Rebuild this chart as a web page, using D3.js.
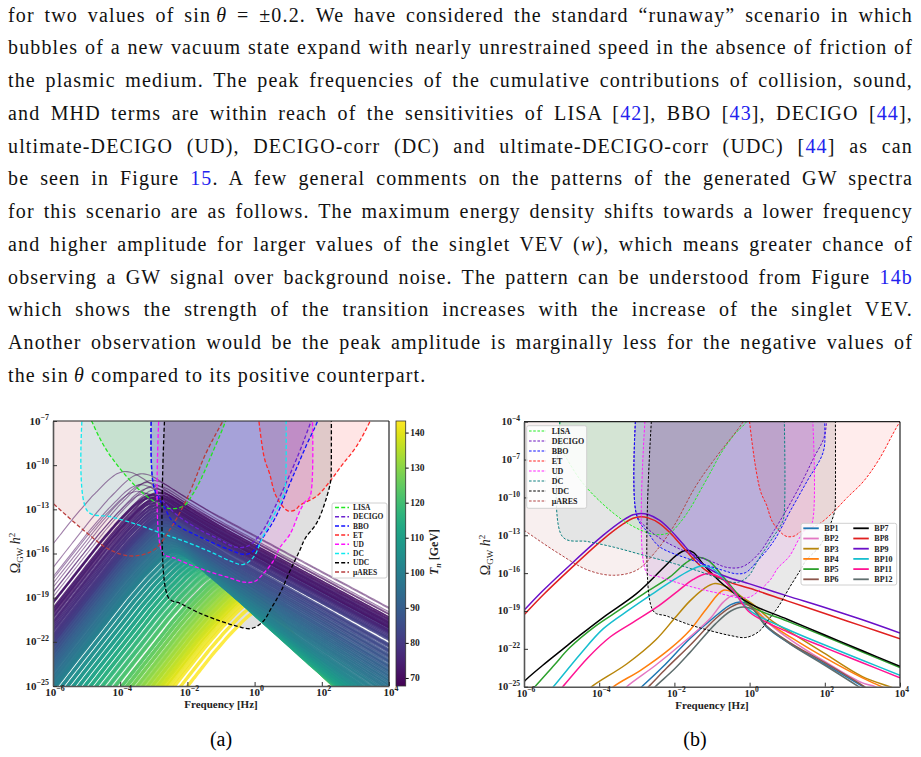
<!DOCTYPE html>
<html>
<head>
<meta charset="utf-8">
<script src="https://cdnjs.cloudflare.com/ajax/libs/d3/7.8.5/d3.min.js"></script>
<style>
  body { margin: 0; background: #fff; }
  svg { display: block; }
  text { font-family: "Liberation Serif", "Times New Roman", serif; }
</style>
</head>
<body>
<svg id="page" width="921" height="757"></svg>
<script>
// ---------------- paragraph text ----------------
// each line: list of [text, kind]  (n = normal, i = italic, b = blue reference)
const paragraphLines = [
  [["for two values of sin\u2009", "n"], ["θ", "i"], [" = ±0.2. We have considered the standard “runaway” scenario in which", "n"]],
  [["bubbles of a new vacuum state expand with nearly unrestrained speed in the absence of friction of", "n"]],
  [["the plasmic medium. The peak frequencies of the cumulative contributions of collision, sound,", "n"]],
  [["and MHD terms are within reach of the sensitivities of LISA [", "n"], ["42", "b"], ["], BBO [", "n"], ["43", "b"], ["], DECIGO [", "n"], ["44", "b"], ["],", "n"]],
  [["ultimate-DECIGO (UD), DECIGO-corr (DC) and ultimate-DECIGO-corr (UDC) [", "n"], ["44", "b"], ["] as can", "n"]],
  [["be seen in Figure ", "n"], ["15", "b"], [". A few general comments on the patterns of the generated GW spectra", "n"]],
  [["for this scenario are as follows. The maximum energy density shifts towards a lower frequency", "n"]],
  [["and higher amplitude for larger values of the singlet VEV (", "n"], ["w", "i"], ["), which means greater chance of", "n"]],
  [["observing a GW signal over background noise. The pattern can be understood from Figure ", "n"], ["14b", "b"]],
  [["which shows the strength of the transition increases with the increase of the singlet VEV.", "n"]],
  [["Another observation would be the peak amplitude is marginally less for the negative values of", "n"]],
  [["the sin\u2009", "n"], ["θ", "i"], [" compared to its positive counterpart.", "n"]]
];

// ---------------- shared axis data (log10 exponents) ----------------
const freqTicks = [-6, -4, -2, 0, 2, 4];
const omegaTicksA = [-7, -10, -13, -16, -19, -22, -25];
const omegaTicksB = [-4, -7, -10, -13, -16, -19, -22, -25];
const tnTicks = [70, 80, 90, 100, 110, 120, 130, 140];

// ---------------- detector sensitivity curves [log10 f, log10 Omega h^2] ----------------
const lisaPts = [[-5.05,-2],[-5.0,-6.1],[-4.85,-7],[-4.4,-9.0],[-3.6,-11.3],[-3.0,-12.45],[-2.5,-12.95],[-2.1,-12.75],[-1.85,-12.0],[-1.585,-10.9],[-1.3,-9.4],[-1.0,-7.8],[-0.79,-6.64],[-0.4,-5.0],[-0.08,-4],[0.3,-2]];
const decigoPts = [[-3.0,-2],[-3.0,-11.4],[-2.7,-12.5],[-2.3,-13.4],[-1.7,-14.3],[-1.0,-15.1],[-0.6,-15.55],[-0.2,-15.5],[0.2,-14.6],[0.63,-12.73],[1.3,-9.3],[1.7,-6.9],[2.0,-5.06],[2.05,-2]];
const bboPts = [[-3.0,-2],[-3.0,-11.5],[-2.7,-12.8],[-2.4,-13.9],[-1.6,-14.9],[-0.73,-15.76],[-0.35,-16.05],[-0.1,-15.95],[0.19,-15.1],[0.63,-13.52],[1.07,-11.14],[1.52,-8.76],[1.96,-6.38],[2.0,-4],[2.0,-2]];
const etPts = [[-0.05,-2],[0.0,-4],[0.18,-7.97],[0.3,-9.6],[0.45,-10.6],[0.6,-11.9],[0.81,-12.73],[0.99,-13.1],[1.2,-13.05],[1.35,-12.73],[1.85,-12.1],[2.23,-11.14],[2.6,-10.0],[3.02,-8.76],[3.43,-7.05],[4.0,-4],[4.5,-2]];
const udPts = [[-2.74,-2],[-2.74,-15.96],[-2.4,-16.3],[-2.02,-16.67],[-1.4,-17.2],[-0.73,-17.66],[-0.3,-17.95],[0.0,-17.9],[0.25,-17.4],[0.56,-16.5],[0.75,-15.6],[1.05,-14.7],[1.35,-13.1],[1.5,-12.5],[1.65,-12.15],[1.65,-2]];
const dcPts = [[-4.98,-2],[-4.98,-13.1],[-4.3,-13.5],[-3.6,-13.95],[-2.8,-14.6],[-2.0,-15.25],[-1.3,-15.9],[-0.73,-16.5],[-0.35,-16.75],[-0.05,-16.3],[0.26,-14.8],[0.55,-13.5],[0.85,-12.1],[0.91,-11.6],[0.91,-2]];
const udcPts = [[-2.57,-2],[-2.57,-18.97],[-2.2,-19.4],[-1.625,-20.06],[-1.0,-20.6],[-0.5,-20.95],[-0.1,-21.1],[0.25,-20.62],[0.5,-19.7],[0.76,-18.68],[1.07,-17.1],[1.35,-15.76],[1.5,-15.0],[1.85,-13.92],[2.1,-12.5],[2.27,-11.0],[2.28,-10.5],[2.28,-2]];
const muaresPts = [[-7,-2],[-7,-10.6],[-6,-12.6],[-5.1,-14.4],[-4.3,-15.76],[-3.62,-16.17],[-3.0,-15.76],[-2.5,-14.3],[-2.0,-12.2],[-1.45,-9.2],[-0.94,-7],[-0.17,-4],[0.2,-2]];

const detectorNames = ["LISA", "DECIGO", "BBO", "ET", "UD", "DC", "UDC", "μARES"];
const detectorPts = [lisaPts, decigoPts, bboPts, etPts, udPts, dcPts, udcPts, muaresPts];
const detectorColorsA = ["#22e622", "#6a22d0", "#1010ff", "#ff2a2a", "#ff10ff", "#10eaf0", "#000000", "#b83c3c"];
const detectorColorsB = ["#22ee22", "#6a12c0", "#1010ff", "#ff2020", "#ff20ff", "#0e8080", "#000000", "#b04545"];

// ---------------- panel (a): scan of spectra ----------------
// per curve: nucleation temperature, peak frequency (log10 Hz), peak amplitude (log10), sound-wave share of the tail
const tnA = [68.2,68.6,69.0,69.3,69.7,70.0,70.4,70.8,71.2,71.6,
  72.0,72.5,73.0,73.5,74.0,74.5,75.0,75.5,76.0,76.5,77.0,77.5,78.0,78.5,79.0,79.5,80.0,80.5,81.0,81.5,
  82.0,82.8,83.6,84.4,85.2,86.0,86.8,87.6,88.4,89.2,90.0,90.8,91.6,92.4,93.2,94.0,94.8,95.6,96.4,97.2,98.0,98.8,99.6,100.4,
  101.2,102.2,103.2,104.2,105.2,106.2,107.2,108.2,109.2,110.2,111.2,112.2,113.2,114.2,115.2,116.2,117.2,118.2,119.2,120.2,121.2,122.2,
  123.2,124.0,124.9,125.8,126.7,127.6,128.5,129.4,130.3,131.2,132.1,133.0,133.9,134.8,135.7,136.6,137.5,138.4,139.3,140.2,141.1,142.0,142.6,143.2];
const peakFreqA = [-3.86,-3.36,-3.05,-3.20,-3.40,-2.95,-3.10,-3.50,-2.90,-3.25,
  -2.85,-3.05,-2.80,-3.10,-2.78,-2.98,-2.72,-3.00,-2.70,-2.92,-2.66,-2.86,-2.64,-2.82,-2.60,-2.78,-2.58,-2.74,-2.55,-2.70,
  -2.60,-2.76,-2.60,-2.74,-2.58,-2.73,-2.56,-2.70,-2.54,-2.68,-2.52,-2.64,-2.48,-2.60,-2.44,-2.56,-2.40,-2.52,-2.36,-2.46,-2.32,-2.42,-2.28,-2.38,
  -2.30,-2.34,-2.18,-2.22,-2.06,-2.10,-1.94,-1.98,-1.82,-1.86,-1.70,-1.74,-1.58,-1.62,-1.46,-1.50,-1.34,-1.36,-1.20,-1.22,-1.06,-1.08,
  -0.92,-0.96,-0.82,-0.86,-0.72,-0.76,-0.62,-0.64,-0.52,-0.54,-0.42,-0.44,-0.32,-0.36,-0.24,-0.26,-0.16,-0.18,-0.08,-0.08,0.00,0.05,0.15,0.25];
const peakAmpA = [-10.40,-10.55,-11.00,-11.15,-11.30,-11.35,-11.50,-11.75,-11.60,-11.90,
  -11.85,-12.00,-12.05,-12.20,-12.20,-12.35,-12.35,-12.55,-12.50,-12.70,-12.65,-12.85,-12.80,-13.00,-12.95,-13.15,-13.10,-13.30,-13.25,-13.45,
  -13.40,-13.60,-13.60,-13.80,-13.80,-14.00,-14.00,-14.20,-14.20,-14.40,-14.40,-14.60,-14.60,-14.80,-14.80,-15.00,-15.00,-15.20,-15.20,-15.40,-15.40,-15.60,-15.60,-15.80,
  -15.75,-15.90,-15.90,-16.05,-16.05,-16.20,-16.20,-16.35,-16.35,-16.50,-16.50,-16.65,-16.65,-16.80,-16.80,-16.95,-16.95,-17.10,-17.10,-17.25,-17.25,-17.40,
  -17.45,-17.60,-17.60,-17.75,-17.75,-17.90,-17.90,-18.05,-18.05,-18.20,-18.20,-18.35,-18.35,-18.50,-18.50,-18.65,-18.65,-18.80,-18.80,-18.95,-19.05,-19.20,-19.45,-19.75];
const soundShareA = [0,0,0,0,0,0,0,0,0,0,
  0,0,0,0,0,0,0,0,0,0,0,0,0,0,0,0,0,0,0,0,
  0.04,0.05,0.07,0.08,0.10,0.11,0.13,0.14,0.16,0.17,0.19,0.20,0.22,0.23,0.25,0.26,0.28,0.29,0.31,0.32,0.34,0.35,0.37,0.38,
  0.40,0.43,0.46,0.49,0.52,0.55,0.58,0.61,0.64,0.67,0.70,0.72,0.74,0.76,0.78,0.80,0.82,0.84,0.86,0.88,0.90,0.92,
  0.93,0.94,0.95,0.96,0.97,0.98,0.99,1,1,1,1,1,1,1,1,1,1,1,1,1,1,1,1,1];
// spectral shapes: [log10(f/f_peak), log10(Omega/Omega_peak)]
const riseShape = [[-8,-22.4],[-5,-13.4],[-4,-10.4],[-3,-7.45],[-2,-4.55],[-1.5,-3.1],[-1,-1.78],[-0.5,-0.62],[-0.25,-0.17],[0,0]];
const fallCollision = [[0,0],[0.25,-0.13],[0.5,-0.45],[1,-1.2],[2,-2.55],[4,-5.0],[6,-7.45],[8,-9.9],[12,-14.8]];
const fallSound = [[0,0],[0.25,-0.22],[0.5,-0.75],[1,-2.1],[1.5,-3.4],[2,-4.6],[3,-6.9],[4,-9.0],[6,-13],[12,-25]];

// ---------------- panel (b): benchmark points [log10 f, log10 Omega h^2] ----------------
const bpNames = ["BP1","BP2","BP3","BP4","BP5","BP6","BP7","BP8","BP9","BP10","BP11","BP12"];
const bpColors = ["#1f77b4","#e377c2","#b8860b","#ff7f0e","#2ca02c","#8c564b","#000000","#e02020","#6a10c8","#17becf","#ff1493","#5f6f6f"];
const bp1 = [[-3.1,-25.6],[-2.87,-25],[-2.3,-23.4],[-1.59,-21.2],[-0.88,-19.34],[-0.5,-18.5],[-0.26,-18.29],[0.0,-18.5],[0.45,-20.27],[1.07,-21.59],[2,-23.2],[3.02,-25],[3.3,-25.5]];
const bp2 = [[-3.45,-25.6],[-3.27,-25],[-2.5,-23.3],[-1.8,-21.6],[-1.05,-19.6],[-0.7,-18.3],[-0.43,-17.75],[-0.15,-18.1],[0.2,-19.0],[0.6,-20.2],[1.1,-21.3],[2,-23.0],[3.0,-24.7],[3.34,-25],[3.6,-25.5]];
const bp3 = [[-4.4,-25.6],[-4.2,-25],[-3.27,-23.2],[-2.5,-21.3],[-2.0,-19.6],[-1.585,-18.2],[-1.2,-17.2],[-0.92,-16.83],[-0.6,-17.1],[-0.2,-17.9],[0.1,-18.5],[0.6,-19.8],[1.2,-20.9],[1.96,-22.3],[3,-24.2],[3.73,-25],[4,-25.3]];
const bp4 = [[-3.8,-25.6],[-3.62,-25],[-2.9,-23.7],[-2.12,-22.0],[-1.58,-20.5],[-1.14,-18.8],[-0.7,-17.36],[-0.4,-17.6],[0.0,-18.5],[0.5,-19.9],[1.1,-21.1],[2,-22.7],[3,-24.3],[3.51,-25],[3.8,-25.4]];
const bp5 = [[-5.9,-25.6],[-5.71,-25],[-5.2,-23.3],[-4.78,-21.9],[-4.1,-20.2],[-3.45,-18.9],[-2.8,-17.6],[-2.12,-16.3],[-1.7,-15.2],[-1.41,-14.75],[-1.1,-15.0],[-0.7,-16.3],[0.0,-18.55],[1,-19.8],[2,-21.0],[3,-22.25],[4,-23.49]];
const bp6 = [[-2.9,-25.6],[-2.69,-25],[-2.2,-23.5],[-1.59,-21.73],[-0.9,-19.6],[-0.5,-18.7],[-0.26,-18.41],[0.0,-18.6],[0.45,-20.2],[1.07,-21.5],[2,-23.1],[3.0,-24.9],[3.3,-25.5]];
const bp7 = [[-6.1,-25],[-6,-24.6],[-5.5,-23.3],[-5,-22.1],[-4.5,-20.9],[-3.89,-19.5],[-3.0,-17.6],[-2.3,-15.6],[-1.95,-14.6],[-1.72,-14.2],[-1.5,-14.35],[-1.23,-15.3],[-0.7,-16.9],[0.0,-18.4],[1,-19.65],[2,-20.9],[3,-22.15],[4,-23.39]];
const bp8 = [[-6.2,-19.9],[-6,-19.3],[-5.5,-17.75],[-4.78,-15.7],[-3.89,-13.3],[-3.36,-12.1],[-3.1,-11.65],[-2.9,-11.54],[-2.7,-11.62],[-2.4,-12.05],[-2.1,-12.85],[-1.8,-13.85],[-1.5,-14.85],[-1.2,-15.7],[-0.9,-16.25],[-0.5,-16.75],[0,-17.2],[1,-18.2],[2,-19.2],[3,-20.2],[4,-21.2]];
const bp9 = [[-6.2,-19.55],[-6,-18.94],[-5.5,-17.4],[-4.78,-15.37],[-3.89,-12.99],[-3.36,-11.8],[-3.1,-11.38],[-2.9,-11.27],[-2.7,-11.35],[-2.4,-11.8],[-2.1,-12.6],[-1.8,-13.6],[-1.5,-14.6],[-1.2,-15.4],[-0.9,-15.95],[-0.5,-16.4],[0,-16.85],[1,-17.8],[2,-18.72],[3,-19.7],[4,-20.75]];
const bp10 = [[-5.4,-25.6],[-5.22,-25],[-4.5,-22.4],[-3.89,-20.4],[-3.2,-18.9],[-2.56,-17.6],[-2.0,-16.5],[-1.6,-15.8],[-1.3,-15.45],[-1.0,-15.6],[-0.6,-16.8],[0.0,-18.95],[1,-20.45],[2,-21.7],[3,-22.9],[4,-24.1]];
const bp11 = [[-5.15,-25.6],[-4.97,-25],[-4.3,-22.7],[-3.71,-21.06],[-3.1,-19.9],[-2.47,-18.7],[-1.9,-17.4],[-1.5,-16.5],[-1.15,-16.05],[-0.8,-16.3],[-0.4,-17.5],[0.0,-19.1],[1,-20.65],[2,-21.9],[3,-23.1],[4,-24.29]];
const bp12 = [[-2.7,-25.6],[-2.51,-25],[-2.0,-23.6],[-1.59,-22.3],[-0.9,-20.0],[-0.5,-19.0],[-0.17,-18.68],[0.1,-18.9],[0.45,-20.2],[1.07,-21.6],[2,-23.3],[2.9,-25],[3.2,-25.6]];
const bpPts = [bp1, bp2, bp3, bp4, bp5, bp6, bp7, bp8, bp9, bp10, bp11, bp12];

// ---------------- drawing ----------------
const svg = d3.select("#page");
const defs = svg.append("defs");

// paragraph, justified by word spacing
const textG = svg.append("g");
paragraphLines.forEach((segs, i) => {
  const t = textG.append("text")
    .attr("x", 8).attr("y", 21.5 + i * 32.75)
    .style("font-size", "20px").style("letter-spacing", "1.15px").attr("fill", "#111");
  segs.forEach(([s, k]) => {
    const ts = t.append("tspan").text(s);
    if (k === "i") ts.style("font-style", "italic");
    if (k === "b") ts.attr("fill", "#2222ee");
  });
  if (i < paragraphLines.length - 1) {
    const natural = t.node().getComputedTextLength();
    const nSpaces = segs.map(d => d[0]).join("").split(" ").length - 1;
    t.style("word-spacing", ((905 - natural) / nSpaces) + "px");
  }
});

function powLabel(sel, e, baseSize, supSize) {
  sel.append("tspan").style("font-size", baseSize + "px").text("10");
  sel.append("tspan").attr("dy", -baseSize * 0.42).style("font-size", supSize + "px")
    .text(e < 0 ? "\u2212" + Math.abs(e) : String(e));
}

function drawPanel(p) {
  const g = svg.append("g");
  const x = d3.scaleLog().domain([1e-6, 1e4]).range([p.left, p.right]);
  const y = d3.scaleLog().domain([1e-25, Math.pow(10, p.yTop)]).range([p.bottom, p.top]);
  const px = d => x(Math.pow(10, d[0]));
  const py = d => y(Math.pow(10, d[1]));

  defs.append("clipPath").attr("id", "clip-" + p.id).append("rect")
    .attr("x", p.left).attr("y", p.top).attr("width", p.right - p.left).attr("height", p.bottom - p.top);
  const plot = g.append("g").attr("clip-path", "url(#clip-" + p.id + ")");
  const smooth = d3.line().x(px).y(py).curve(d3.curveCatmullRom.alpha(0.5));

  // shaded sensitivity regions
  detectorPts.forEach((pts, i) => {
    plot.append("path").attr("d", smooth(pts) + "Z")
      .attr("fill", p.colors[i]).attr("fill-opacity", p.fillAlpha).attr("stroke", "none");
  });

  // spectra
  p.drawSpectra(plot, px, py);

  // sensitivity curves
  detectorPts.forEach((pts, i) => {
    plot.append("path").attr("d", smooth(pts))
      .attr("fill", "none").attr("stroke", p.colors[i])
      .attr("stroke-width", p.dashWidth).attr("stroke-dasharray", p.dash);
  });

  // frame
  g.append("line").attr("x1", p.left).attr("x2", p.right).attr("y1", p.top).attr("y2", p.top).attr("stroke", "#222").attr("stroke-width", 1.2);
  g.append("line").attr("x1", p.right).attr("x2", p.right).attr("y1", p.top).attr("y2", p.bottom).attr("stroke", "#222").attr("stroke-width", 1.2);

  // axes (ticks point inward)
  const xAxis = d3.axisBottom(x).tickValues(freqTicks.map(e => Math.pow(10, e)))
    .tickSizeInner(-4).tickSizeOuter(0).tickFormat("");
  const gx = g.append("g").attr("transform", "translate(0," + p.bottom + ")").call(xAxis);
  gx.select(".domain").attr("stroke", "#555").attr("stroke-width", 1.6);
  gx.selectAll(".tick line").attr("stroke", "#333");
  const yAxis = d3.axisLeft(y).tickValues(p.yTicks.map(e => Math.pow(10, e)))
    .tickSizeInner(-4).tickSizeOuter(0).tickFormat("");
  const gy = g.append("g").attr("transform", "translate(" + p.left + ",0)").call(yAxis);
  gy.select(".domain").attr("stroke", "#555").attr("stroke-width", 1.6);
  gy.selectAll(".tick line").attr("stroke", "#333");

  freqTicks.forEach(e => {
    const t = g.append("text").attr("x", x(Math.pow(10, e)) + 2).attr("y", p.bottom + 10)
      .attr("text-anchor", "middle").style("font-weight", "bold").attr("fill", "#222");
    powLabel(t, e, p.tickSize, p.tickSize * 0.72);
  });
  p.yTicks.forEach(e => {
    const t = g.append("text").attr("x", p.left - 4).attr("y", y(Math.pow(10, e)) + 3.5)
      .attr("text-anchor", "end").style("font-weight", "bold").attr("fill", "#222");
    powLabel(t, e, p.tickSize, p.tickSize * 0.72);
  });

  // axis titles
  g.append("text").attr("x", (p.left + p.right) / 2 + p.xLabelShift).attr("y", p.bottom + 22)
    .attr("text-anchor", "middle").style("font-weight", "bold").style("font-size", "11px")
    .attr("fill", "#222").text("Frequency [Hz]");
  const yl = g.append("text").attr("transform", "translate(" + p.yLabelX + "," + p.yLabelY + ") rotate(-90)")
    .attr("text-anchor", "middle").style("font-size", "14px").attr("fill", "#222");
  yl.append("tspan").text("Ω");
  yl.append("tspan").attr("dy", 2.5).style("font-size", "9px").text("GW");
  yl.append("tspan").attr("dy", -2.5).style("font-style", "italic").text(" h");
  yl.append("tspan").attr("dy", -5).style("font-size", "9px").text("2");

  // detector legend
  const lg = g.append("g");
  lg.append("rect").attr("x", p.legend.x).attr("y", p.legend.y).attr("width", p.legend.w).attr("height", p.legend.h)
    .attr("rx", 2).attr("fill", "#fff").attr("fill-opacity", 0.85).attr("stroke", "#d0d0d0");
  detectorNames.forEach((name, i) => {
    const cy = p.legend.y0 + i * p.legend.dy;
    lg.append("line").attr("x1", p.legend.lx1).attr("x2", p.legend.lx2).attr("y1", cy).attr("y2", cy)
      .attr("stroke", p.colors[i]).attr("stroke-width", p.dashWidth + 0.2).attr("stroke-dasharray", p.dash);
    lg.append("text").attr("x", p.legend.tx).attr("y", cy + 2.7)
      .style("font-size", p.legend.fs + "px").style("font-weight", "bold").attr("fill", "#222").text(name);
  });
  return { g, x, y };
}

// ---- panel (a) ----
const tnColor = d3.scaleSequential(d3.interpolateViridis).domain([67.7, 143.3]);
const riseScale = d3.scaleLinear().domain(riseShape.map(d => d[0])).range(riseShape.map(d => d[1]));
const fallCScale = d3.scaleLinear().domain(fallCollision.map(d => d[0])).range(fallCollision.map(d => d[1]));
const fallSScale = d3.scaleLinear().domain(fallSound.map(d => d[0])).range(fallSound.map(d => d[1]));

drawPanel({
  id: "a", left: 53, right: 389, top: 421, bottom: 686, yTop: -7, yTicks: omegaTicksA,
  colors: detectorColorsA, fillAlpha: 0.12, dash: "4,2.2", dashWidth: 1.3, tickSize: 11,
  xLabelShift: 0, yLabelX: 20, yLabelY: 553,
  legend: { x: 332, y: 503, w: 55, h: 75, y0: 507.5, dy: 9.2, lx1: 335, lx2: 349, tx: 353, fs: 7.5 },
  drawSpectra(plot, px, py) {
    const lineGen = d3.line().x(px).y(py).curve(d3.curveBasis);
    const order = d3.range(tnA.length).sort((a, b) => tnA[b] - tnA[a]);
    order.forEach(i => {
      const pts = d3.range(-6.3, 4.31, 0.1).map(lf => {
        const dl = lf - peakFreqA[i];
        const drop = dl <= 0 ? riseScale(dl)
          : (1 - soundShareA[i]) * fallCScale(dl) + soundShareA[i] * fallSScale(dl);
        return [lf, peakAmpA[i] + drop];
      });
      const width = i < 10 ? 1.1 : (i < 30 ? 2.2 : 3.4);
      plot.append("path").attr("d", lineGen(pts)).attr("fill", "none")
        .attr("stroke", tnColor(tnA[i])).attr("stroke-width", width)
        .attr("stroke-opacity", i < 10 ? 0.5 : 0.85);
    });
  }
});

// colorbar
const cbar = { x: 396, w: 9.7, top: 421, bottom: 686 };
const cbY = d3.scaleLinear().domain([67.7, 143.3]).range([cbar.bottom, cbar.top]);
const grad = defs.append("linearGradient").attr("id", "viridis").attr("x1", 0).attr("x2", 0).attr("y1", 1).attr("y2", 0);
d3.range(0, 1.001, 0.05).forEach(t => {
  grad.append("stop").attr("offset", t).attr("stop-color", d3.interpolateViridis(t));
});
svg.append("rect").attr("x", cbar.x).attr("y", cbar.top).attr("width", cbar.w).attr("height", cbar.bottom - cbar.top)
  .attr("fill", "url(#viridis)").attr("stroke", "#333").attr("stroke-width", 0.8);
const cbAxis = svg.append("g").attr("transform", "translate(" + (cbar.x + cbar.w) + ",0)")
  .call(d3.axisRight(cbY).tickValues(tnTicks).tickSize(3).tickPadding(1.5));
cbAxis.select(".domain").remove();
cbAxis.selectAll(".tick text").style("font-family", "'Liberation Serif', serif").style("font-size", "9.5px")
  .style("font-weight", "bold").attr("fill", "#222");
const cbl = svg.append("text").attr("transform", "translate(438,552) rotate(-90)")
  .attr("text-anchor", "middle").style("font-size", "12px").style("font-weight", "bold").attr("fill", "#222");
cbl.append("tspan").style("font-style", "italic").text("T");
cbl.append("tspan").attr("dy", 2.5).style("font-size", "8px").style("font-style", "italic").text("n");
cbl.append("tspan").attr("dy", -2.5).text(" [GeV]");

// ---- panel (b) ----
drawPanel({
  id: "b", left: 524, right: 900, top: 421.7, bottom: 686.7, yTop: -4, yTicks: omegaTicksB,
  colors: detectorColorsB, fillAlpha: 0.085, dash: "2.6,1.6", dashWidth: 1, tickSize: 10.5,
  xLabelShift: 0, yLabelX: 490, yLabelY: 555,
  legend: { x: 526.7, y: 425.7, w: 60, h: 82.6, y0: 431, dy: 10, lx1: 529, lx2: 546, tx: 551.7, fs: 8 },
  drawSpectra(plot, px, py) {
    const lineGen = d3.line().x(px).y(py).curve(d3.curveCatmullRom.alpha(0.5));
    bpPts.forEach((pts, i) => {
      plot.append("path").attr("d", lineGen(pts)).attr("fill", "none")
        .attr("stroke", bpColors[i]).attr("stroke-width", 1.5);
    });
  }
});

// BP legend
const bpLeg = svg.append("g");
bpLeg.append("rect").attr("x", 801).attr("y", 523.3).attr("width", 95.7).attr("height", 61.7)
  .attr("rx", 2).attr("fill", "#fff").attr("fill-opacity", 0.85).attr("stroke", "#d0d0d0");
bpNames.forEach((name, i) => {
  const col = Math.floor(i / 6), row = i % 6;
  const cy = 528.3 + row * 10.2;
  const lx = col === 0 ? 803.3 : 853.3;
  bpLeg.append("line").attr("x1", lx).attr("x2", lx + 15.5).attr("y1", cy).attr("y2", cy)
    .attr("stroke", bpColors[i]).attr("stroke-width", 1.8);
  bpLeg.append("text").attr("x", lx + 21).attr("y", cy + 2.8)
    .style("font-size", "8px").style("font-weight", "bold").attr("fill", "#222").text(name);
});

// captions
svg.append("text").attr("x", 221).attr("y", 746).attr("text-anchor", "middle").style("font-size", "20px").text("(a)");
svg.append("text").attr("x", 695).attr("y", 746).attr("text-anchor", "middle").style("font-size", "20px").text("(b)");
</script>
</body>
</html>
